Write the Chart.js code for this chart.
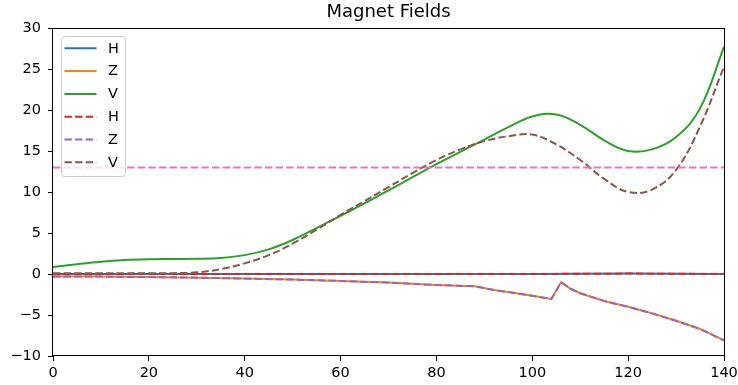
<!DOCTYPE html>
<html>
<head>
<meta charset="utf-8">
<script src="https://cdn.jsdelivr.net/npm/chart.js@4.4.0/dist/chart.umd.min.js"></script>
<style>
  html, body { margin: 0; padding: 0; background: #fff; }
</style>
</head>
<body>
<canvas id="chart" width="738" height="385"></canvas>
<script>
// x positions of the samples
const xV = [0,5,10,15,20,25,30,35,40,45,50,55,60,65,70,75,80,85,90,95,100,105,110,115,120,125,130,135,140];
const xZ = [0,10,20,30,40,50,60,70,80,88,92,96,100,104,106,108,110,115,120,125,130,135,140];
const xH = [0,20,40,60,80,100,120,140];

// measured (solid) and model (dashed) components
const hMeasured = [0,0,0,0,0,0,0.05,0];
const zMeasured = [-0.3,-0.32,-0.38,-0.45,-0.55,-0.68,-0.85,-1.05,-1.35,-1.5,-1.95,-2.3,-2.65,-3.05,-1.0,-1.8,-2.35,-3.3,-4.0,-4.8,-5.7,-6.7,-8.1];
const vMeasured = [0.85,1.2,1.5,1.7,1.8,1.83,1.85,1.95,2.3,3.0,4.15,5.6,7.1,8.6,10.2,11.8,13.4,14.9,16.4,17.9,19.2,19.45,18.2,16.3,15.0,15.2,16.7,20.2,27.7];

const hModel = [0,0,0,0,0,0,0.05,0];
const zModel = [-0.3,-0.32,-0.38,-0.45,-0.55,-0.68,-0.85,-1.05,-1.35,-1.5,-1.95,-2.3,-2.65,-3.05,-1.0,-1.8,-2.35,-3.3,-4.0,-4.8,-5.7,-6.7,-8.1];
const vModel = [0.1,0.1,0.1,0.1,0.1,0.1,0.2,0.6,1.3,2.3,3.7,5.4,7.2,8.9,10.6,12.3,13.9,15.2,16.2,16.8,17.0,15.8,13.9,11.6,10.0,10.3,12.7,18.0,25.3];

// horizontal reference level
const xLimit = [0, 140];
const vLimit = [13, 13];

const xTicks = { min: 0, max: 140, step: 20 };
const yTicks = { min: -10, max: 30, step: 5 };

function pts(xs, ys) {
  return xs.map((x, i) => ({ x: x, y: ys[i] }));
}

const dash = [7.4, 3.2];

function line(label, xs, ys, color, dashed, tension) {
  return {
    label: label,
    data: pts(xs, ys),
    borderColor: color,
    backgroundColor: color,
    borderWidth: 2,
    borderDash: dashed ? dash : [],
    pointRadius: 0,
    tension: tension,
    fill: false
  };
}

const datasets = [
  line('H', xH, hMeasured, '#1f77b4', false, 0),
  line('Z', xZ, zMeasured, '#ff7f0e', false, 0),
  line('V', xV, vMeasured, '#2ca02c', false, 0.4),
  line('H', xH, hModel, '#d62728', true, 0),
  line('Z', xZ, zModel, '#9467bd', true, 0),
  line('V', xV, vModel, '#8c564b', true, 0.4),
  line('', xLimit, vLimit, '#e377c2', true, 0)
];
// later series on top, like the original plot
datasets.forEach((d, i) => { d.order = datasets.length - i; });

// spines on all four sides plus a legend box inside the axes
const frameAndLegend = {
  id: 'frameAndLegend',
  afterDatasetsDraw(chart) {
    const ctx = chart.ctx;
    const a = chart.chartArea;
    ctx.save();
    ctx.strokeStyle = '#000';
    ctx.lineWidth = 1;
    ctx.strokeRect(Math.round(a.left) - 0.5, Math.round(a.top) + 0.5,
      Math.round(a.right - a.left) + 1, Math.round(a.bottom - a.top) - 1);

    const items = chart.data.datasets.filter(d => d.label);
    const rowH = 22.8;
    const bx = a.left + 8, by = a.top + 8;
    const bw = 64, bh = 12.3 + (items.length - 1) * rowH + 13.7;
    ctx.beginPath();
    ctx.roundRect(bx + 0.5, by + 0.5, bw, bh, 3);
    ctx.fillStyle = 'rgba(255,255,255,0.8)';
    ctx.fill();
    ctx.strokeStyle = '#cccccc';
    ctx.stroke();

    ctx.font = '14.5px "DejaVu Sans"';
    ctx.textBaseline = 'middle';
    ctx.textAlign = 'left';
    items.forEach((d, i) => {
      const y = by + 12.3 + i * rowH;
      ctx.beginPath();
      ctx.setLineDash(d.borderDash.length ? d.borderDash : []);
      ctx.strokeStyle = d.borderColor;
      ctx.lineWidth = 2;
      ctx.moveTo(bx + 3.5, y);
      ctx.lineTo(bx + 35.5, y);
      ctx.stroke();
      ctx.setLineDash([]);
      ctx.fillStyle = '#000';
      ctx.fillText(d.label, bx + 47, y + 0.5);
    });
    ctx.restore();
  }
};

Chart.defaults.font.family = '"DejaVu Sans"';
Chart.defaults.color = '#000';

const minus = v => String(v).replace('-', '\u2212');

new Chart(document.getElementById('chart').getContext('2d'), {
  type: 'line',
  data: { datasets: datasets },
  plugins: [frameAndLegend],
  options: {
    responsive: false,
    animation: false,
    layout: { padding: { left: 0, right: 0, top: 0, bottom: 0 } },
    plugins: {
      legend: { display: false },
      tooltip: { enabled: false },
      title: {
        display: true,
        fullSize: false,
        text: 'Magnet Fields',
        color: '#000',
        font: { size: 18, weight: 'normal' },
        padding: { top: 2, bottom: 4.4 }
      }
    },
    scales: {
      x: {
        type: 'linear',
        min: xTicks.min,
        max: xTicks.max,
        border: { display: false },
        grid: { display: true, drawOnChartArea: false, drawTicks: true, tickLength: 5, color: '#000', lineWidth: 1 },
        ticks: { stepSize: xTicks.step, padding: 4, font: { size: 14.5 }, color: '#000', maxRotation: 0, callback: minus },
        afterFit(scale) {
          scale.height = 29;
          scale.paddingRight = 14;
          scale.paddingLeft = 0;
        }
      },
      y: {
        type: 'linear',
        min: yTicks.min,
        max: yTicks.max,
        border: { display: false },
        grid: { display: true, drawOnChartArea: false, drawTicks: true, tickLength: 5, color: '#000', lineWidth: 1 },
        ticks: { stepSize: yTicks.step, padding: 7, font: { size: 14.5 }, color: '#000', callback: minus },
        afterFit(scale) { scale.width = 53; }
      }
    }
  }
});
</script>
</body>
</html>
